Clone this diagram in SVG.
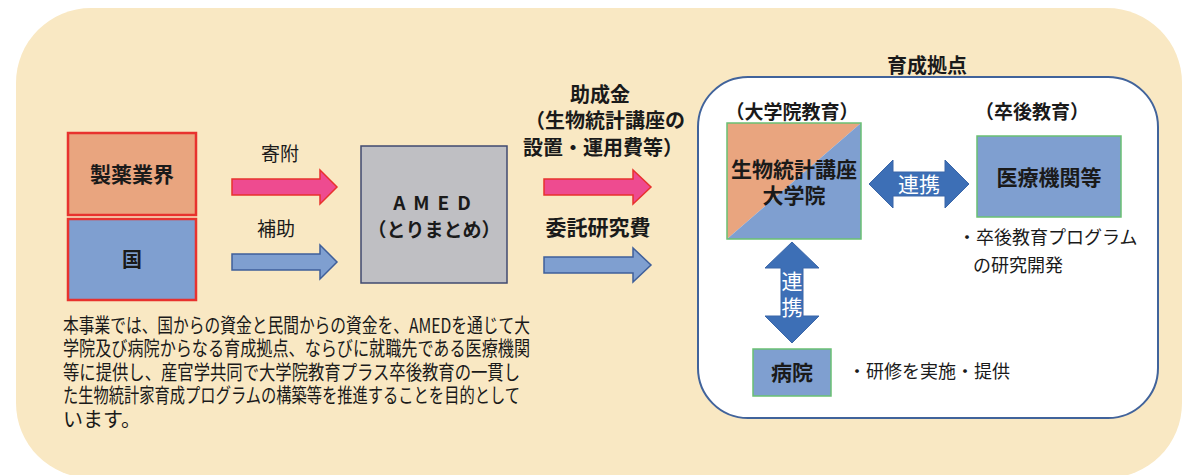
<svg xmlns="http://www.w3.org/2000/svg" width="1183" height="475" viewBox="0 0 1183 475">
<style>
text{font-family:"Noto Sans CJK JP","Noto Sans",sans-serif;fill:#1a1a1a}
.b{font-weight:bold}
.c{text-anchor:middle}
.w{fill:#ffffff}
.org{fill:#e9a57f;stroke:#e8322e;stroke-width:2.5}
.blu{fill:#7f9fd0;stroke:#e8322e;stroke-width:2.5}
.pink{fill:#ee4b90;stroke:#e8322e;stroke-width:1.5}
.barrow{fill:#7f9fd0;stroke:#3f5f9a;stroke-width:1.5}
.darrow{fill:#3d6fb6;stroke:#3a66a8;stroke-width:1}
.gbox{stroke:#6ac073;stroke-width:1.5}
</style>
<rect x="16" y="8" width="1166" height="470" rx="75" ry="75" fill="#f9e8c3"/>
<g id="hub">
<rect x="698" y="77" width="460" height="341" rx="50" ry="50" fill="#ffffff" stroke="#41639b" stroke-width="2"/>
<text class="b c" x="927" y="73" font-size="20">育成拠点</text>
<text class="b c" x="792" y="119" font-size="19">（大学院教育）</text>
<text class="b c" x="1032" y="119" font-size="19">（卒後教育）</text>
</g>
<g id="industry">
<rect class="org" x="68" y="133" width="128" height="82"/>
<text class="b c" x="132" y="182" font-size="21">製薬業界</text>
</g>
<g id="kuni">
<rect class="blu" x="68" y="219" width="128" height="81"/>
<text class="b c" x="132" y="267" font-size="20">国</text>
</g>
<g id="amed">
<rect x="361" y="146" width="146" height="137" fill="#bfbfc3" stroke="#404a70" stroke-width="1.5"/>
<text class="b c" x="436" y="210" font-size="19" letter-spacing="8">AMED</text>
<text class="b c" x="434" y="237" font-size="19">（とりまとめ）</text>
</g>
<g id="university">
<polygon points="727,123 861,123 727,239" fill="#e9a57f"/>
<polygon points="861,123 861,239 727,239" fill="#7f9fd0"/>
<rect class="gbox" x="727" y="123" width="134" height="116" fill="none"/>
<text class="b c" font-size="21"><tspan x="794" y="177">生物統計講座</tspan><tspan x="794" y="203">大学院</tspan></text>
</g>
<g id="medical">
<rect class="gbox" x="977" y="136" width="144" height="81" fill="#7f9fd0"/>
<text class="b c" x="1049" y="185" font-size="21">医療機関等</text>
<text font-size="18"><tspan x="958" y="244">・卒後教育プログラム</tspan><tspan x="973" y="272">の研究開発</tspan></text>
</g>
<g id="hospital">
<rect class="gbox" x="753" y="349" width="78" height="47" fill="#7f9fd0"/>
<text class="b c" x="792" y="380" font-size="21">病院</text>
<text x="848" y="378" font-size="18">・研修を実施・提供</text>
</g>
<g id="connectors">
<path class="pink" d="M232,179 H320 V170 L337,187 L320,204 V195 H232 Z"/>
<path class="barrow" d="M232,254 H320 V245 L337,262 L320,279 V270 H232 Z"/>
<path class="pink" d="M544,179 H633 V170 L651,187 L633,204 V195 H544 Z"/>
<path class="barrow" d="M544,257 H633 V248 L651,265 L633,282 V273 H544 Z"/>
<path class="darrow" d="M869,184 L893,160 V172 H945 V160 L969,184 L945,208 V196 H893 V208 Z"/>
<path class="darrow" d="M792,242 L819,268 H803 V316 H819 L792,343 L765,316 H781 V268 H765 Z"/>
<text class="c" x="280" y="161" font-size="19">寄附</text>
<text class="c" x="276" y="236" font-size="19">補助</text>
<text class="b c" x="600" y="102" font-size="20">助成金</text>
<text class="b c" x="605" y="128" font-size="20">（生物統計講座の</text>
<text class="b c" x="603" y="155" font-size="20">設置・運用費等）</text>
<text class="b c" x="598" y="235" font-size="21">委託研究費</text>
<text class="w c" x="919" y="192" font-size="21">連携</text>
<text class="w c" font-size="21"><tspan x="792" y="289">連</tspan><tspan x="792" y="315">携</tspan></text>
</g>
<g id="description">
<text font-size="20">
<tspan x="63" y="333" textLength="467" lengthAdjust="spacingAndGlyphs">本事業では、国からの資金と民間からの資金を、AMEDを通じて大</tspan>
<tspan x="63" y="356" textLength="467" lengthAdjust="spacingAndGlyphs">学院及び病院からなる育成拠点、ならびに就職先である医療機関</tspan>
<tspan x="63" y="380" textLength="457" lengthAdjust="spacingAndGlyphs">等に提供し、産官学共同で大学院教育プラス卒後教育の一貫し</tspan>
<tspan x="63" y="403" textLength="457" lengthAdjust="spacingAndGlyphs">た生物統計家育成プログラムの構築等を推進することを目的として</tspan>
<tspan x="63" y="427">います。</tspan>
</text>
</g>
</svg>
